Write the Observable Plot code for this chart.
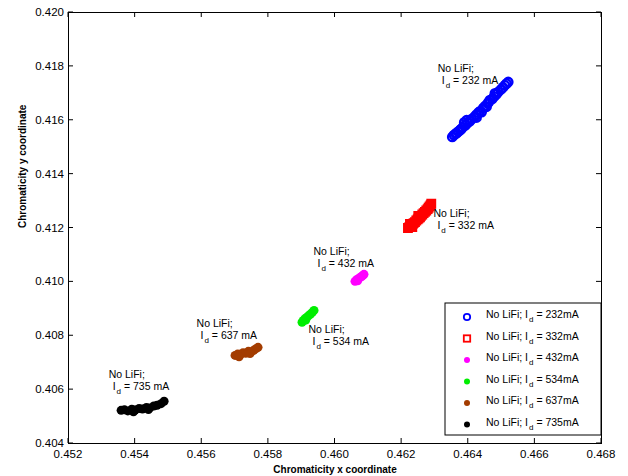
<!DOCTYPE html>
<html><head><meta charset="utf-8">
<script src="https://cdn.jsdelivr.net/npm/d3@7"></script>
<script src="https://cdn.jsdelivr.net/npm/@observablehq/plot@0.6"></script>
<style>body{margin:0;background:#fff}</style>
</head><body><div id="chart"></div>
<script>
const currents = [232, 332, 432, 534, 637, 735]
const colors = ['#0000ff', '#ff0000', '#ff00ff', '#00ee00', '#a33c00', '#000000']

const x232 = [0.46352,0.46357,0.46362,0.46365,0.46370,0.46375,0.46378,0.46383,0.46388,0.46392,0.46398,0.46405,0.46410,0.46418,0.46424,0.46430,0.46435,0.46440,0.46445,0.46450,0.46458,0.46462,0.46465,0.46472,0.46478,0.46485,0.46490,0.46498,0.46504,0.46510,0.46515,0.46520,0.46395,0.46425,0.46455,0.46480]
const y232 = [0.41538,0.41545,0.41550,0.41552,0.41558,0.41563,0.41566,0.41573,0.41592,0.41582,0.41590,0.41597,0.41604,0.41612,0.41620,0.41628,0.41633,0.41630,0.41645,0.41652,0.41662,0.41668,0.41675,0.41679,0.41688,0.41697,0.41705,0.41714,0.41722,0.41730,0.41736,0.41742,0.41600,0.41610,0.41650,0.41700]
const x332 = [0.46219,0.46223,0.46226,0.46230,0.46233,0.46236,0.46240,0.46244,0.46248,0.46251,0.46255,0.46258,0.46262,0.46266,0.46270,0.46274,0.46278,0.46281,0.46284,0.46287,0.46289,0.46225,0.46250,0.46232]
const y332 = [0.41200,0.41203,0.41205,0.41210,0.41215,0.41218,0.41222,0.41228,0.41232,0.41236,0.41240,0.41245,0.41250,0.41255,0.41260,0.41265,0.41270,0.41275,0.41280,0.41285,0.41290,0.41215,0.41245,0.41203]
const x432 = [0.46060,0.46065,0.46070,0.46075,0.46080,0.46084,0.46087,0.46068]
const y432 = [0.41002,0.41008,0.41012,0.41016,0.41020,0.41024,0.41028,0.41004]
const x534 = [0.45901,0.45905,0.45910,0.45915,0.45920,0.45926,0.45932,0.45937,0.45912]
const y534 = [0.40850,0.40857,0.40863,0.40868,0.40874,0.40880,0.40887,0.40894,0.40858]
const x637 = [0.45700,0.45708,0.45716,0.45724,0.45732,0.45740,0.45748,0.45756,0.45763,0.45769,0.45712,0.45745]
const y637 = [0.40727,0.40732,0.40730,0.40737,0.40735,0.40742,0.40740,0.40746,0.40752,0.40757,0.40722,0.40734]
const x735 = [0.45358,0.45368,0.45378,0.45390,0.45400,0.45412,0.45422,0.45434,0.45444,0.45456,0.45466,0.45478,0.45487,0.45395,0.45440]
const y735 = [0.40523,0.40525,0.40521,0.40527,0.40524,0.40530,0.40528,0.40534,0.40532,0.40539,0.40542,0.40548,0.40557,0.40518,0.40526]

const labelX = [0.46310, 0.46297, 0.45937, 0.45922, 0.45586, 0.45322]
const labelY = [0.41779, 0.41240, 0.41099, 0.40809, 0.40831, 0.40642]
const xTicks = d3.range(0.452, 0.4681, 0.002)
const yTicks = d3.range(0.404, 0.4201, 0.002)

const xs = [x232, x332, x432, x534, x637, x735]
const ys = [y232, y332, y432, y534, y637, y735]
const points = xs.flatMap((arr, s) => arr.map((x, i) => ({x, y: ys[s][i], s})))
const labels = currents.map((c, i) => ({c, x: labelX[i], y: labelY[i]}))

const fmt = d3.format('.3f')
const font = 'Liberation Sans, Arial, sans-serif'

// inward ticks on all four sides plus tick labels
function axes(index, {x, y}) {
  const g = d3.create('svg:g').attr('stroke', '#000').attr('font-family', font).attr('font-size', 11.5)
  const [x0, x1] = x.range(), [y0, y1] = y.range()
  for (const t of xTicks) {
    const px = x(t)
    g.append('line').attr('x1', px).attr('x2', px).attr('y1', y0).attr('y2', y0 - 5)
    g.append('line').attr('x1', px).attr('x2', px).attr('y1', y1).attr('y2', y1 + 5)
    g.append('text').attr('x', px).attr('y', y0 + 15).attr('text-anchor', 'middle').attr('stroke', 'none').text(fmt(t))
  }
  for (const t of yTicks) {
    const py = y(t)
    g.append('line').attr('x1', x0).attr('x2', x0 + 5).attr('y1', py).attr('y2', py)
    g.append('line').attr('x1', x1).attr('x2', x1 - 5).attr('y1', py).attr('y2', py)
    g.append('text').attr('x', x0 - 4).attr('y', py + 4).attr('text-anchor', 'end').attr('stroke', 'none').text(fmt(t))
  }
  return g.node()
}

function idText(sel, c, suffix) {
  sel.append('tspan').text('I')
  sel.append('tspan').attr('font-size', 8).attr('dy', 4).attr('dx', 1).text('d')
  sel.append('tspan').attr('dy', -4).text(` = ${c}${suffix}`)
}

function annotations(index, {x, y}) {
  const g = d3.create('svg:g').attr('font-family', font).attr('font-size', 10.5).attr('text-anchor', 'start')
  for (const d of labels) {
    const px = x(d.x), py = y(d.y)
    g.append('text').attr('x', px).attr('y', py).text('No LiFi;')
    idText(g.append('text').attr('x', px + 4).attr('y', py + 12), d.c, ' mA')
  }
  return g.node()
}

function legend(index, {x, y}) {
  const g = d3.create('svg:g').attr('font-family', font).attr('font-size', 10.5).attr('text-anchor', 'start')
  const right = x.range()[1], bottom = y.range()[0]
  const bx = right - 156, by = bottom - 140
  g.append('rect').attr('x', bx).attr('y', by).attr('width', 156).attr('height', 132)
    .attr('fill', '#fff').attr('stroke', '#000')
  currents.forEach((c, i) => {
    const cy = by + 14 + i * 21.5
    const mx = bx + 22
    if (i === 0) g.append('circle').attr('cx', mx).attr('cy', cy).attr('r', 3.2).attr('fill', 'none').attr('stroke', colors[i]).attr('stroke-width', 1.8)
    else if (i === 1) g.append('rect').attr('x', mx - 3.2).attr('y', cy - 3.2).attr('width', 6.4).attr('height', 6.4).attr('fill', 'none').attr('stroke', colors[i]).attr('stroke-width', 1.8)
    else g.append('circle').attr('cx', mx).attr('cy', cy).attr('r', 3).attr('fill', colors[i])
    const t = g.append('text').attr('x', bx + 41).attr('y', cy + 1)
    t.append('tspan').text('No LiFi; ')
    idText(t, c, 'mA')
  })
  return g.node()
}

const chart = Plot.plot({
  width: 628, height: 476,
  marginLeft: 68, marginRight: 27, marginTop: 12, marginBottom: 33,
  x: {domain: [0.452, 0.468], axis: null},
  y: {domain: [0.404, 0.42], axis: null},
  style: {fontFamily: font},
  marks: [
    Plot.dot(points.filter(d => d.s === 0), {x: 'x', y: 'y', r: 4.2, stroke: colors[0], strokeWidth: 2.4, fill: 'none'}),
    Plot.dot(points.filter(d => d.s === 1), {x: 'x', y: 'y', r: 4.2, symbol: 'square', stroke: colors[1], strokeWidth: 2.4, fill: 'none'}),
    Plot.dot(points.filter(d => d.s > 1), {x: 'x', y: 'y', r: 4.5, fill: d => colors[d.s], stroke: 'none'}),
    Plot.frame({stroke: '#000'}),
    axes, annotations, legend,
    Plot.text(['Chromaticity x coordinate'], {frameAnchor: 'bottom', dy: 29, fontWeight: 'bold', fontSize: 10}),
    Plot.text(['Chromaticity y coordinate'], {frameAnchor: 'left', dx: -46, rotate: -90, fontWeight: 'bold', fontSize: 10})
  ]
})
document.getElementById('chart').append(chart)
</script></body></html>
